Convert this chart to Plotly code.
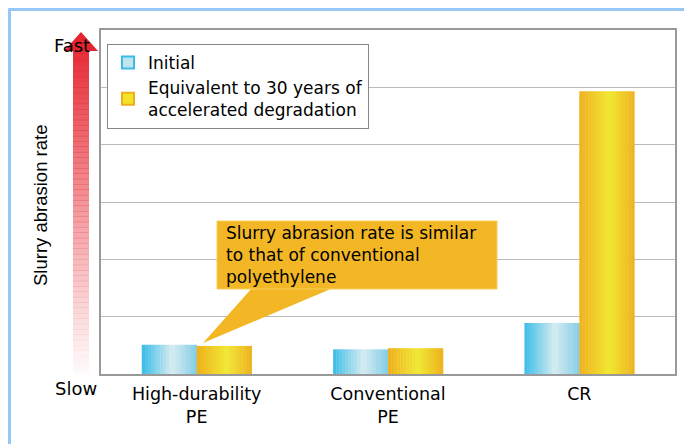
import plotly.graph_objects as go

categories = ["High-durability<br>PE", "Conventional<br>PE", "CR"]
initial = [0.51, 0.43, 0.89]
degraded = [0.49, 0.45, 4.93]
series_names = ["Initial", "Equivalent to 30 years of<br>accelerated degradation"]
y_title = "Slurry abrasion rate"
callout_lines = ["Slurry abrasion rate is similar", "to that of conventional", "polyethylene"]

PAGE_W, PAGE_H = 692, 444
OFF = 8  # page body margin
W, H = PAGE_W - OFF, PAGE_H - OFF
L, R, T, B = 101, 675, 30, 374  # plot area in page pixels
FONT = "DejaVu Sans, Liberation Sans, Arial"
FS = 17.5


def px(x):
    return (x - L) / (R - L)


def py(y):
    return (B - y) / (B - T)


def lerp_stops(stops, t):
    for (p0, c0), (p1, c1) in zip(stops, stops[1:]):
        if p0 <= t <= p1:
            f = (t - p0) / (p1 - p0) if p1 > p0 else 0
            c = [round(a + (b - a) * f) for a, b in zip(c0, c1)]
            return f"rgb({c[0]},{c[1]},{c[2]})"
    c = stops[-1][1]
    return f"rgb({c[0]},{c[1]},{c[2]})"


blue_stops = [(0.0, (58, 188, 232)), (0.55, (214, 236, 240)), (1.0, (130, 205, 232))]
yellow_stops = [(0.0, (238, 176, 28)), (0.55, (240, 232, 52)), (1.0, (238, 178, 30))]

bar_w = 0.287
N = 18
fig = go.Figure()
for vals, stops, start in [(initial, blue_stops, -bar_w), (degraded, yellow_stops, 0.0)]:
    for i in range(N):
        t = (i + 0.5) / N
        fig.add_trace(go.Bar(
            x=categories, y=vals,
            width=bar_w / N + 0.002, offset=start + i * bar_w / N,
            marker=dict(color=lerp_stops(stops, t), line=dict(width=0)),
            showlegend=False, hoverinfo="skip",
        ))

# legend entries
fig.add_trace(go.Bar(x=[None], y=[None], name=series_names[0],
                     marker=dict(color="rgb(190,228,240)", line=dict(color="rgb(58,188,232)", width=2))))
fig.add_trace(go.Bar(x=[None], y=[None], name=series_names[1],
                     marker=dict(color="rgb(244,226,40)", line=dict(color="rgb(238,176,28)", width=2))))

shapes = []
# red arrow shaft with fade
ax0, ax1 = 73, 89
top, bot = 50, 372
M = 60
for i in range(M):
    y0 = top + (bot - top) * i / M
    y1 = top + (bot - top) * (i + 1) / M + 0.5
    a = 0.95 * (1 - i / M) ** 1.1 + 0.02
    shapes.append(dict(type="rect", xref="paper", yref="paper",
                       x0=px(ax0), x1=px(ax1), y0=py(y1), y1=py(y0),
                       fillcolor=f"rgba(230,40,50,{a:.3f})", line=dict(width=0), layer="below"))
shapes.append(dict(type="path", xref="paper", yref="paper",
                   path=f"M {px(64)},{py(51)} L {px(81)},{py(32)} L {px(98)},{py(51)} Z",
                   fillcolor="rgb(228,36,46)", line=dict(width=0)))
# callout box and tail
box_top, box_bot = 221, 289
shapes.append(dict(type="path", xref="paper", yref="paper",
                   path=f"M {px(252)},{py(box_bot - 1)} L {px(333)},{py(box_bot - 1)} L {px(203)},{py(343)} Z",
                   fillcolor="rgb(243,183,37)", line=dict(width=0)))
shapes.append(dict(type="rect", xref="paper", yref="paper",
                   x0=px(217), x1=px(497), y0=py(box_bot), y1=py(box_top),
                   fillcolor="rgb(243,183,37)", line=dict(color="rgb(246,205,90)", width=1)))
# outer light-blue frame (top and left)
shapes.append(dict(type="line", xref="paper", yref="paper", x0=px(8.5), x1=px(710), y0=py(9.5), y1=py(9.5),
                   line=dict(color="rgb(150,200,245)", width=3)))
shapes.append(dict(type="line", xref="paper", yref="paper", x0=px(9.5), x1=px(9.5), y0=py(8.5), y1=py(460),
                   line=dict(color="rgb(150,200,245)", width=3)))

annotations = [
    dict(text="<br>".join(callout_lines), xref="paper", yref="paper", x=px(224),
         y=py((box_top + box_bot) / 2), xanchor="left", yanchor="middle", align="left",
         showarrow=False, font=dict(size=17, color="black", family=FONT)),
    dict(text="Fast", xref="paper", yref="paper", x=px(72), y=py(46), showarrow=False,
         xanchor="center", yanchor="middle",
         font=dict(size=18, color="black", family=FONT)),
    dict(text="Slow", xref="paper", yref="paper", x=px(76), y=py(388), showarrow=False,
         xanchor="center", yanchor="middle",
         font=dict(size=18, color="black", family=FONT)),
    dict(text=y_title, xref="paper", yref="paper", x=px(40), y=py(206), showarrow=False,
         xanchor="center", yanchor="middle", textangle=-90,
         font=dict(size=18.5, color="black", family="Liberation Sans, Arial")),
]

fig.update_layout(
    width=W, height=H,
    margin=dict(l=L - OFF, r=PAGE_W - R, t=T - OFF, b=PAGE_H - B, pad=0),
    paper_bgcolor="white", plot_bgcolor="white",
    barmode="group",
    shapes=shapes, annotations=annotations,
    font=dict(family=FONT, size=FS, color="black"),
    legend=dict(x=px(107), y=py(44), xanchor="left", yanchor="top",
                bordercolor="#888", borderwidth=1, bgcolor="white",
                font=dict(size=17, family=FONT), tracegroupgap=0,
                itemwidth=30),
    showlegend=True,
)
fig.update_xaxes(showline=True, linecolor="#999", linewidth=2, mirror=True,
                 ticks="outside", ticklen=3, tickcolor="rgba(0,0,0,0)",
                 tickfont=dict(size=FS, family=FONT, color="black"))
fig.update_yaxes(range=[0, 6], dtick=1, showticklabels=False, showgrid=True,
                 gridcolor="#bbb", gridwidth=1, showline=True, linecolor="#999",
                 linewidth=2, mirror=True, zeroline=False, ticks="")

fig.write_html("out.html")
